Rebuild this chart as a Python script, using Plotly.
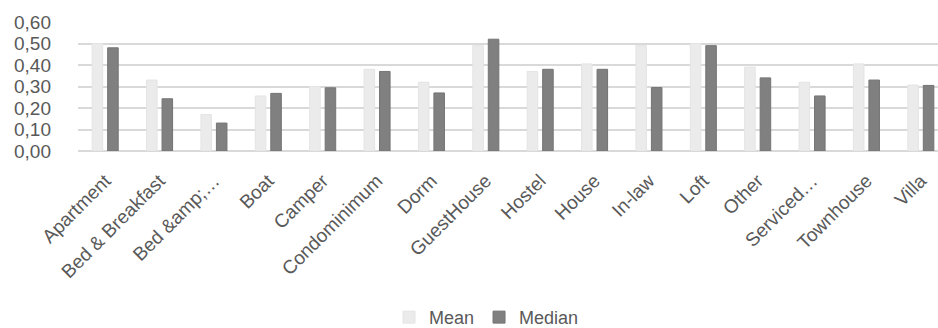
import plotly.graph_objects as go

categories = ["Apartment", "Bed & Breakfast", "Bed &amp;amp;…", "Boat", "Camper",
              "Condominimum", "Dorm", "GuestHouse", "Hostel", "House", "In-law",
              "Loft", "Other", "Serviced…", "Townhouse", "Villa"]
mean_values = [0.50, 0.33, 0.17, 0.256, 0.30, 0.38, 0.32, 0.49, 0.37, 0.405,
               0.49, 0.50, 0.39, 0.32, 0.405, 0.307]
median_values = [0.48, 0.243, 0.13, 0.268, 0.294, 0.37, 0.27, 0.52, 0.38, 0.38,
                 0.295, 0.49, 0.34, 0.256, 0.33, 0.305]

text_color = "#595959"
font_family = "Liberation Sans, Arial, sans-serif"

fig = go.Figure()
fig.add_trace(go.Bar(
    x=categories, y=mean_values, name="Mean",
    marker=dict(color="#ebebeb", line=dict(color="#e4e4e4", width=1)),
))
fig.add_trace(go.Bar(
    x=categories, y=median_values, name="Median",
    marker=dict(color="#808080", line=dict(color="#747474", width=1)),
))

fig.update_layout(
    width=938, height=328,
    margin=dict(l=78, r=0, t=22, b=177, autoexpand=False),
    paper_bgcolor="white", plot_bgcolor="white",
    barmode="group", bargap=0.43, bargroupgap=0.32,
    separators=",.",
    font=dict(family=font_family, color=text_color),
    showlegend=True,
    legend=dict(orientation="h", x=0.475, xanchor="center", y=-1.29, yanchor="middle",
                font=dict(size=18, color=text_color), itemwidth=30,
                traceorder="normal"),
)
fig.update_xaxes(
    range=[-0.5, 15.316], automargin=False,
    tickangle=-45, tickfont=dict(size=19, color=text_color),
    showgrid=False, showline=False, ticks="", ticklabelstandoff=14,
)
fig.update_yaxes(
    range=[0, 0.6], dtick=0.1, tickformat=".2f", automargin=False,
    tickfont=dict(size=19, color=text_color),
    showgrid=True, gridcolor="#d9d9d9", gridwidth=1.5,
    zeroline=True, zerolinecolor="#d9d9d9", zerolinewidth=1.5,
    showline=False, ticks="", ticklabelstandoff=26,
)

fig.write_html("out.html")
